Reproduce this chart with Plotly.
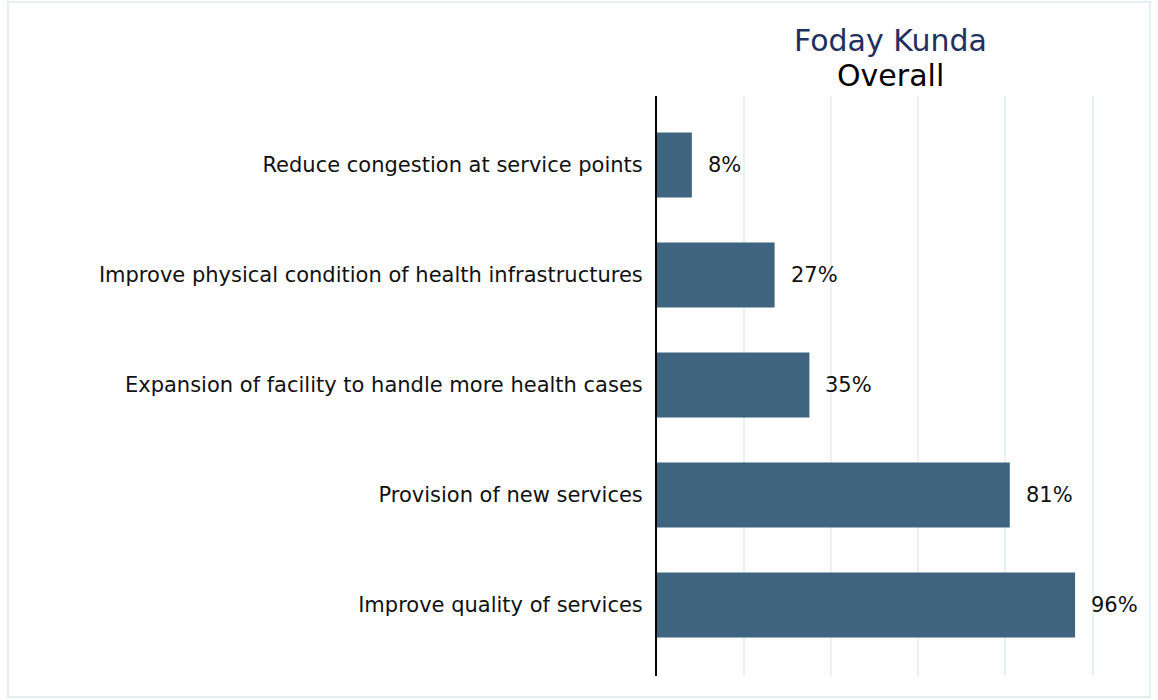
import plotly.graph_objects as go

categories = [
    "Reduce congestion at service points",
    "Improve physical condition of health infrastructures",
    "Expansion of facility to handle more health cases",
    "Provision of new services",
    "Improve quality of services",
]
values = [8, 27, 35, 81, 96]
title_main = "Foday Kunda"
title_sub = "Overall"

BAR_COLOR = "#3f6480"
GRID_COLOR = "#e9f1f3"
FONT = "DejaVu Sans, Verdana, sans-serif"

W, H = 1158, 700
ML, MR, MT, MB = 657, 35, 96, 24
PW, PH = W - ML - MR, H - MT - MB

fig = go.Figure()
fig.add_trace(go.Bar(
    y=categories, x=values, orientation="h",
    marker=dict(color=BAR_COLOR, line=dict(width=0)),
    width=0.59, hoverinfo="x+y",
))

for c, v in zip(categories, values):
    fig.add_annotation(x=v, y=c, xref="x", yref="y", text=f"{v}%",
                       showarrow=False, xanchor="left", yanchor="middle",
                       xshift=14, font=dict(size=21, color="#111111", family=FONT))

def px_to_paper_y(py):
    return (H - MB - py) / PH

def px_to_paper_x(px):
    return (px - ML) / PW

fig.add_annotation(x=0.5, y=px_to_paper_y(41), xref="paper", yref="paper",
                   text=title_main, showarrow=False, xanchor="center", yanchor="middle",
                   font=dict(size=30, color="#1f3060", family=FONT))
fig.add_annotation(x=0.5, y=px_to_paper_y(76), xref="paper", yref="paper",
                   text=title_sub, showarrow=False, xanchor="center", yanchor="middle",
                   font=dict(size=30, color="#000000", family=FONT))

fig.add_shape(type="rect", xref="paper", yref="paper",
              x0=px_to_paper_x(8), x1=px_to_paper_x(1150),
              y0=px_to_paper_y(697), y1=px_to_paper_y(2),
              line=dict(color="#e4eff1", width=2), fillcolor="rgba(0,0,0,0)", layer="below")

fig.update_layout(
    width=W, height=H,
    margin=dict(l=ML, r=MR, t=MT, b=MB),
    paper_bgcolor="white", plot_bgcolor="white",
    showlegend=False,
    font=dict(family=FONT, size=21, color="#111111"),
    xaxis=dict(range=[0, 107], tick0=0, dtick=20, showgrid=True, gridcolor=GRID_COLOR,
               gridwidth=2, zeroline=False, showticklabels=False, ticks="", showline=False,
               fixedrange=True),
    yaxis=dict(range=[4.645, -0.627], showline=True, linecolor="#000000", linewidth=2,
               ticks="", showgrid=False, ticklabelstandoff=8, zeroline=False,
               tickfont=dict(size=21, family=FONT, color="#111111"), fixedrange=True),
)

fig.write_html("out.html", config={"displayModeBar": False},
               post_script="document.body.style.margin='0';document.body.style.padding='0';")
